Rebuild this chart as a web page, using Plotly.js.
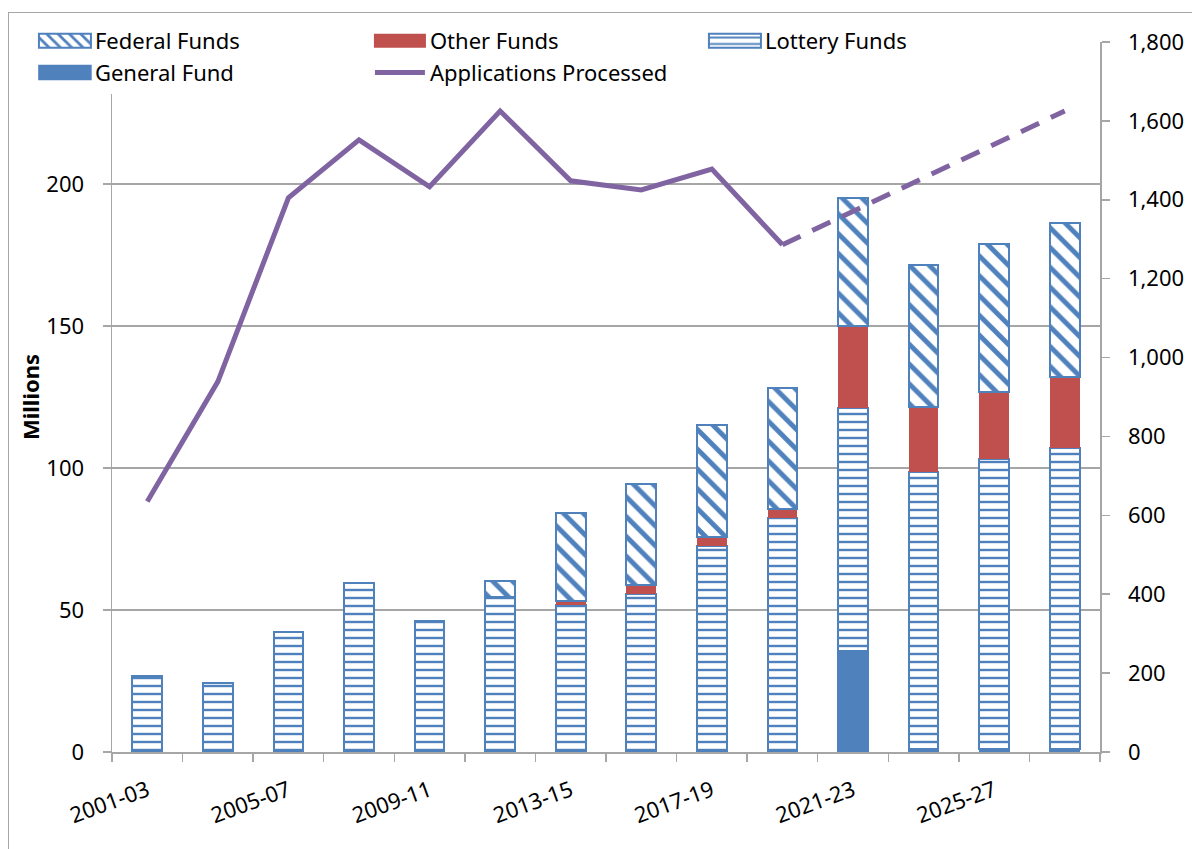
<!DOCTYPE html>
<html>
<head>
<meta charset="utf-8">
<script src="https://cdn.plot.ly/plotly-3.0.1.min.js"></script>
<style>
  html, body { margin: 0; padding: 0; background: #ffffff; }
  #frame { position: absolute; left: 8px; top: 12px; width: 1200px; height: 860px;
           border-left: 1.5px solid #a6a6a6; border-top: 1.5px solid #a6a6a6; }
  #chart { position: absolute; left: 0; top: 0; width: 1192px; height: 849px; }
</style>
</head>
<body>
<div id="frame"></div>
<div id="chart"></div>
<script>
// ---- data ----
var categories = ['2001-03','2003-05','2005-07','2007-09','2009-11','2011-13','2013-15',
                  '2015-17','2017-19','2019-21','2021-23','2023-25','2025-27','2027-29'];
var generalFund  = [null,null,null,null,null,null,null,null,null,null,35.6,1.0,1.0,1.2];
var lotteryFunds = [26.6,24.3,42.2,59.6,46.1,54.7,51.8,55.5,72.6,82.3,85.4,97.7,102.1,106.0];
var otherFunds   = [null,null,null,null,null,null,1.5,3.4,3.0,3.2,29.0,22.9,23.5,24.7];
var federalFunds = [null,null,null,null,null,5.6,31.0,35.4,39.5,42.7,45.2,49.9,52.2,54.3];
var applicationsProcessed = [635,939,1405,1552,1433,1625,1448,1425,1478,1286,null,null,null,null];
var applicationsProjected = [null,null,null,null,null,null,null,null,null,1286,1370,1456,1541,1625];
var leftTickVals  = [0,50,100,150,200,250];
var leftTickText  = ['0','50','100','150','200',''];
var xTickText = categories.map(function(c,i){ return i % 2 === 0 ? c : ''; });

var BLUE = '#4F81BD', RED = '#C0504D', PURPLE = '#8064A2', GRAY = '#a6a6a6';
var FONT = 'Noto Sans, Open Sans, sans-serif';

var traces = [
  { type:'bar', name:'General Fund', x:categories, y:generalFund, legendrank:4,
    marker:{ color:BLUE, line:{ color:BLUE, width:1.5 } } },
  { type:'bar', name:'Lottery Funds', x:categories, y:lotteryFunds, legendrank:3,
    marker:{ color:BLUE, line:{ color:BLUE, width:2 },
             pattern:{ shape:'-', fgcolor:BLUE, bgcolor:'#ffffff', fillmode:'replace', size:8, solidity:0.3 } } },
  { type:'bar', name:'Other Funds', x:categories, y:otherFunds, legendrank:2,
    marker:{ color:RED, line:{ color:RED, width:0 } } },
  { type:'bar', name:'Federal Funds', x:categories, y:federalFunds, legendrank:1,
    marker:{ color:BLUE, line:{ color:BLUE, width:2 },
             pattern:{ shape:'\\', fgcolor:BLUE, bgcolor:'#ffffff', fillmode:'replace', size:14, solidity:0.35 } } },
  { type:'scatter', mode:'lines', name:'Applications Processed', x:categories, y:applicationsProcessed,
    yaxis:'y2', legendrank:5, line:{ color:PURPLE, width:5 }, connectgaps:false },
  { type:'scatter', mode:'lines', name:'Applications Projected', x:categories, y:applicationsProjected,
    yaxis:'y2', showlegend:false, line:{ color:PURPLE, width:5, dash:'20px,13px' }, connectgaps:false }
];

var layout = {
  width:1192, height:849,
  margin:{ l:112, r:92, t:42, b:97, pad:0 },
  paper_bgcolor:'rgba(0,0,0,0)', plot_bgcolor:'rgba(0,0,0,0)',
  font:{ family:FONT, size:22, color:'#000000' },
  barmode:'stack', bargap:0.58,
  showlegend:true,
  legend:{ orientation:'h', x:-0.078, xanchor:'left', y:1.031, yanchor:'top',
           bgcolor:'#ffffff', borderwidth:0, itemwidth:50,
           entrywidth:270, entrywidthmode:'pixels', traceorder:'normal',
           font:{ family:FONT, size:22, color:'#000000' } },
  xaxis:{ type:'category', tickmode:'array', tickvals:categories, ticktext:xTickText,
          tickson:'boundaries', ticks:'outside', ticklen:8, tickwidth:1.5, tickcolor:GRAY,
          showline:true, linecolor:GRAY, linewidth:1.5, showgrid:false, zeroline:false,
          tickangle:-20, ticklabelstandoff:16, tickfont:{ family:FONT, size:22 } },
  yaxis:{ range:[0,250], tickmode:'array', tickvals:leftTickVals, ticktext:leftTickText,
          ticks:'outside', ticklen:8, tickwidth:1.5, tickcolor:GRAY,
          showline:true, linecolor:GRAY, linewidth:1.5,
          showgrid:true, gridcolor:GRAY, gridwidth:1.5, zeroline:false,
          ticklabelstandoff:14, tickfont:{ family:FONT, size:22 },
          title:{ text:'<b>Millions</b>', font:{ family:FONT, size:22 }, standoff:0 } },
  yaxis2:{ overlaying:'y', side:'right', range:[0,1800], dtick:200, tickformat:',',
           ticks:'outside', ticklen:8, tickwidth:1.5, tickcolor:GRAY,
           showline:true, linecolor:GRAY, linewidth:1.5, showgrid:false, zeroline:false,
           ticklabelstandoff:14, tickfont:{ family:FONT, size:22 } }
};

function widenLegend(gd){
  // widen the bar legend swatches to the wide rectangles used in the reference
  gd.querySelectorAll('.legend .legendpoints path').forEach(function(p){
    var d = p.getAttribute('d') || '';
    if (d.indexOf('M6,6') === 0) p.setAttribute('d', 'M26,7H-26V-7H26Z');
  });
  gd.querySelectorAll('.legend .legendlines path').forEach(function(p){
    p.style.strokeWidth = '5px';
  });
}

var gdEl = document.getElementById('chart');
Plotly.newPlot(gdEl, traces, layout, { displayModeBar:false, staticPlot:true }).then(function(gd){
  widenLegend(gd);
  setTimeout(function(){ widenLegend(gd); }, 50);
});
</script>
</body>
</html>
